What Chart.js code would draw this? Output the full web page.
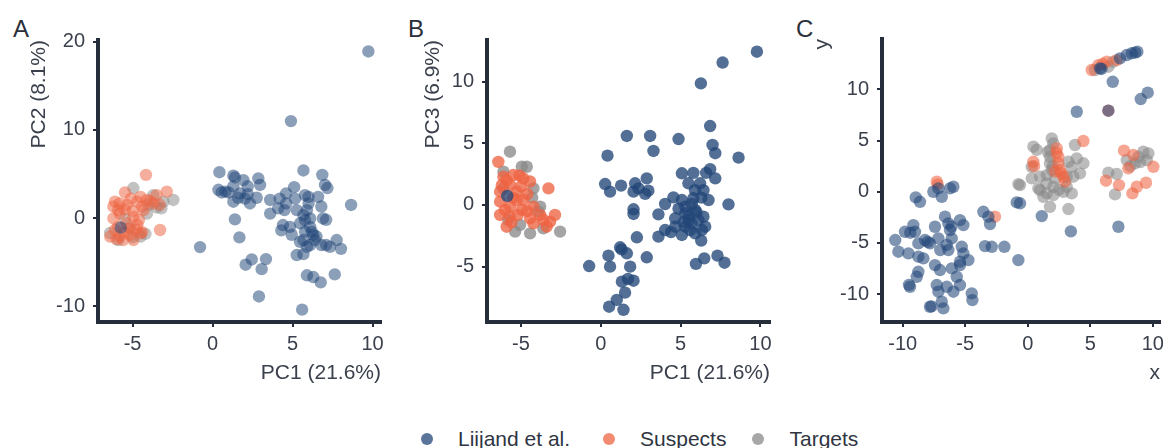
<!DOCTYPE html>
<html>
<head>
<meta charset="utf-8">
<script src="https://cdn.jsdelivr.net/npm/chart.js@4.4.1/dist/chart.umd.min.js"></script>
<style>
  body { margin: 0; background: #fff; width: 1167px; height: 448px; overflow: hidden; position: relative; font-family: "Liberation Sans", Arial, sans-serif; }
  canvas { position: absolute; top: 0; }
  .tag { position: absolute; font-size: 24px; line-height: 24px; color: #2a2f3a; }
  #legend { position: absolute; top: 427px; left: 421px; display: flex; align-items: center; font-size: 21px; line-height: 24px; color: #2f3542; white-space: nowrap; }
  #legend .dot { display: inline-block; width: 12px; height: 12px; border-radius: 50%; margin-right: 25px; }
  #legend .item { display: flex; align-items: center; margin-right: 33px; }
  #legend .item:nth-child(2) { margin-right: 26px; }
</style>
</head>
<body>
<div class="tag" style="left:13px;top:17px">A</div>
<div class="tag" style="left:408px;top:17px">B</div>
<div class="tag" style="left:796px;top:17px">C</div>
<canvas id="pcaA" width="400" height="400" style="left:0px"></canvas>
<canvas id="pcaB" width="400" height="400" style="left:390px"></canvas>
<canvas id="tsneC" width="387" height="400" style="left:780px"></canvas>
<div id="legend"></div>
<script>
// groups and their colours
const groups = ['Liijand et al.', 'Suspects', 'Targets'];
const groupRGB = ['35,70,120', '238,100,66', '138,138,138'];

// PCA: PC1 vs PC2
const aLiigand = [[0.43,5.2],[1.3,4.8],[1.93,4.3],[2.86,4.5],[2.97,3.75],[0.37,3.2],[0.57,2.9],[1.3,3.6],[1.72,2.8],[2.03,2.2],
  [2.76,2.3],[1.3,1.85],[2.34,1.65],[1.4,-0.15],[1.68,-2.2],[-0.78,-3.3],[2.45,-4.7],[2.07,-5.3],[3.34,-4.66],[3.07,-5.8],
  [2.9,-8.9],[5.68,5.4],[6.86,4.9],[7.03,3.75],[7.18,3.4],[8.66,1.48],[3.6,2.05],[4.2,2.2],[4.6,2.8],[5.1,3.5],
  [5.16,2.2],[5.78,2.6],[6.0,2.4],[3.6,0.5],[4.1,1.1],[4.5,0.9],[4.6,1.65],[5.9,0.9],[6.1,-0.05],[6.8,1.3],
  [6.9,-0.05],[7.1,-0.2],[4.4,-0.8],[4.3,-1.4],[4.84,-1.0],[4.95,-1.9],[5.47,-0.6],[5.78,-0.23],[5.78,-1.55],[6.3,-1.9],
  [6.4,-2.5],[6.1,-3.07],[5.47,-2.7],[5.9,-3.26],[7.1,-3.07],[7.34,-3.26],[7.76,-2.5],[8.03,-3.5],[5.26,-4.2],[5.68,-4.1],
  [5.9,-6.5],[6.3,-6.7],[6.76,-7.3],[7.64,-6.4],[5.6,-10.4],[5.26,0.9],[6.6,2.4],[6.0,1.65],[4.9,11.0],[9.74,18.9],
  [5.68,0.34],[6.1,-1.0],[6.2,-1.55],[6.5,-2.1],[5.68,-2.5],[6.8,-3.07],[0.8,3.0],[1.0,2.9],[1.4,4.6],[2.2,3.6],
  [1.6,2.3],[2.2,2.7],[-5.74,-1.1]];
const aSuspects = [[-4.16,4.9],[-5.47,2.9],[-3.5,2.6],[-2.86,3.0],[-6.1,1.85],[-6.2,1.3],[-5.8,1.65],[-5.36,1.5],[-4.7,1.85],[-4.1,2.05],
  [-3.7,1.65],[-4.3,0.9],[-4.95,0.15],[-5.8,0.5],[-6.2,-0.05],[-4.7,-0.8],[-5.36,-0.6],[-3.28,-1.36],[-6.4,-2.1],[-5.8,-2.1],
  [-5.16,-1.93],[-4.5,-1.74],[-6.1,-1.36],[-5.6,-2.5],[-4.95,-2.5],[-5.9,0.9],[-5.5,1.0],[-5.0,0.8],[-4.4,1.3],[-3.9,1.9],
  [-4.6,-0.2],[-5.2,-1.2],[-5.9,-1.0],[-6.0,-2.4],[-5.5,-1.6],[-4.8,-1.3],[-4.4,-1.6],[-5.1,2.2],[-4.5,2.4],[-3.3,1.5]];
const aTargets = [[-4.95,3.4],[-2.45,2.05],[-3.07,1.85],[-3.2,1.1],[-4.1,0.5],[-4.5,-2.1],[-6.4,-1.7],[-5.16,-1.1],[-3.7,2.6],[-5.47,-0.1],
  [-5.0,-2.2],[-4.2,-1.8],[-3.5,1.2],[-4.0,1.5],[-5.9,-2.5]];

// PCA: PC1 vs PC3
const bLiigand = [[6.85,6.4],[1.63,5.6],[3.09,5.6],[4.87,5.35],[3.3,4.38],[0.42,4.0],[7.0,4.87],[7.17,4.2],[8.63,3.84],[5.08,2.57],
  [5.8,2.6],[6.85,2.9],[7.17,2.16],[6.22,1.76],[5.49,1.76],[6.43,1.2],[0.27,1.7],[0.58,1.08],[1.27,1.57],[2.15,1.76],
  [2.88,2.16],[2.05,1.08],[2.78,0.9],[2.36,1.35],[2.98,1.16],[2.05,-0.35],[2.05,-0.73],[3.61,-0.76],[4.03,0.08],[4.55,0.62],
  [5.08,0.4],[5.8,0.54],[6.75,0.4],[8.0,0.05],[4.66,-1.08],[5.29,-0.68],[5.91,-0.4],[6.43,-0.95],[4.03,-2.03],[4.66,-1.76],
  [5.29,-1.76],[5.7,-1.49],[6.33,-2.03],[5.08,-2.43],[5.91,-2.3],[3.61,-2.57],[2.26,-2.62],[6.29,-2.89],[5.49,-1.22],[2.88,-4.24],
  [1.21,-3.43],[1.63,-3.92],[0.48,-4.11],[-0.73,-4.95],[0.58,-5.0],[1.84,-5.0],[5.96,-4.78],[6.48,-4.33],[7.31,-4.11],[7.75,-4.68],
  [1.32,-6.22],[2.05,-6.14],[1.52,-7.11],[1.0,-7.7],[0.52,-8.25],[1.42,-8.5],[9.78,12.43],[7.63,11.55],[6.27,9.86],[5.29,-0.14],
  [5.7,0.08],[6.12,-1.22],[4.87,-0.3],[6.54,-1.76],[5.6,-2.03],[5.5,-0.9],[6.0,-0.6],[5.2,-1.4],[4.4,-2.2],[6.6,2.6],
  [5.9,1.2],[6.3,0.6],[1.7,-6.0],[1.3,-3.6],[-5.86,0.73]];
const bSuspects = [[-6.42,3.5],[-6.1,2.3],[-5.48,2.43],[-4.85,2.16],[-4.43,1.9],[-3.28,1.35],[-6.31,1.08],[-5.27,1.08],[-4.85,0.4],[-6.31,0.27],
  [-5.69,-0.13],[-4.95,-0.4],[-4.22,-0.13],[-6.31,-0.81],[-5.69,-0.95],[-4.43,-1.08],[-3.8,-0.81],[-2.87,-0.81],[-5.9,-1.76],[-4.22,-1.49],
  [-3.39,-1.76],[-3.18,-1.35],[-5.27,0.4],[-5.69,1.62],[-5.9,2.0],[-5.0,1.5],[-4.6,0.9],[-5.5,0.6],[-6.0,-0.4],[-5.2,-0.8],
  [-4.6,-0.5],[-3.6,-1.2],[-5.6,-1.4],[-6.2,1.6],[-5.1,2.4]];
const bTargets = [[-5.69,4.32],[-4.95,3.1],[-4.64,3.1],[-6.1,2.7],[-3.8,-0.13],[-2.55,-2.16],[-5.37,-2.16],[-4.43,-2.3],[-6.1,1.35],[-4.22,1.35],
  [-3.91,-0.54],[-5.06,-1.62],[-4.3,0.6],[-3.6,-1.9],[-5.8,-1.2]];

// embedding x vs y
const cLiigand = [[-8.96,-0.55],[-8.62,-0.98],[-7.55,0],[-7.15,0.33],[-6.88,-0.49],[-6.22,0.33],[-5.95,0.49],[-0.88,-1.04],[-0.62,-1.13],[-3.55,-1.96],
  [-3.15,-2.44],[-3.02,-3.16],[-10.6,-4.72],[-10.35,-5.86],[-9.82,-3.91],[-9.15,-3.26],[-9.02,-3.91],[-9.55,-6.02],[-8.75,-6.35],[-8.35,-6.51],
  [-8.75,-5.05],[-8.22,-4.72],[-7.82,-5.05],[-7.15,-4.56],[-6.62,-2.44],[-6.35,-3.09],[-6.22,-3.74],[-6.08,-4.56],[-6.35,-5.7],[-5.42,-2.77],
  [-5.15,-3.26],[-5.28,-5.38],[-5.15,-6.02],[-4.75,-6.68],[-5.42,-6.84],[-5.42,-7.17],[-7.42,-7.17],[-7.02,-7.65],[-8.75,-7.82],[-8.88,-8.31],
  [-9.42,-9.29],[-7.28,-9.12],[-6.48,-9.29],[-5.68,-8.31],[-5.42,-9.12],[-5.95,-9.77],[-4.48,-9.93],[-4.43,-10.59],[-7.82,-11.24],[-6.75,-11.4],
  [-6.88,-10.75],[-7.15,-9.77],[-3.42,-5.31],[-2.88,-5.38],[-1.87,-5.38],[-0.75,-6.68],[-6.08,-7.49],[-7.42,-3.42],[-6.48,-5.2],[-9.4,-4.0],
  [-8.0,-4.9],[-7.0,-5.7],[-6.1,-3.4],[-9.5,-9.1],[-7.7,-11.2],[8.77,13.69],[8.32,13.53],[7.92,13.36],[7.38,13.04],[5.78,12.06],
  [6.8,10.75],[9.6,9.68],[9.04,9.06],[3.92,7.82],[6.45,7.92],[1.12,-2.38],[3.45,-3.87],[7.25,-3.42],[8.6,13.6],[5.9,12.0]];
const cSuspects = [[-7.28,0.98],[-7.2,0.7],[-2.62,-2.44],[7.12,12.87],[6.32,12.71],[5.65,12.38],[5.12,11.9],[6.0,12.5],[4.45,4.96],[0.45,2.93],
  [0.5,2.5],[2.32,4.24],[2.45,3.42],[2.45,2.78],[2.58,2.12],[2.85,1.47],[2.98,0.98],[2.18,2.0],[2.3,3.8],[2.7,1.8],
  [7.7,4.01],[8.05,2.29],[8.45,3.59],[10.05,2.44],[6.26,1.08],[7.3,0.65],[8.72,0.49],[9.46,0.88],[8.37,-0.16],[6.45,7.92]];
const cTargets = [[-0.75,0.75],[6.85,12.71],[5.38,11.9],[6.45,12.22],[0.45,4.4],[0.72,4.1],[1.92,5.22],[2.05,4.73],[1.78,4.08],[1.78,3.42],
  [1.78,2.78],[1.92,2.12],[3.78,4.57],[3.25,2.93],[3.92,3.26],[4.45,2.78],[3.52,2.44],[4.18,1.8],[3.65,1.47],[0.32,2.44],
  [0.32,1.31],[0.98,1.47],[1.52,1.63],[2.18,1.31],[-0.62,0.65],[0.85,0.33],[1.52,-0.16],[2.05,-0.32],[1.78,-1.47],[3.25,-1.69],
  [3.12,0.49],[3.52,-0.16],[2.85,0],[1.25,-0.49],[0.98,0.16],[2.05,0.49],[3.12,1.47],[6.45,1.86],[7.12,1.73],[6.98,-0.26],
  [7.92,3.1],[8.85,3.42],[9.25,3.91],[9.65,3.75],[9.52,3.1],[8.58,2.78],[9.0,2.9],[8.2,2.5],[1.6,3.9],[2.0,2.5],
  [1.5,0.8],[2.5,0.2]];

// tick labels
const aXTicks = [-5, 0, 5, 10], aYTicks = [-10, 0, 10, 20];
const bXTicks = [-5, 0, 5, 10], bYTicks = [-5, 0, 5, 10];
const cXTicks = [-10, -5, 0, 5, 10], cYTicks = [-10, -5, 0, 5, 10];

const axisColor = '#262e3b';
const textColor = '#3a404c';

function toPoints(arr) {
  return arr.map(p => ({x: p[0], y: p[1]}));
}

function makePanel(id, p) {
  const datasets = p.series.map((s, i) => ({
    label: groups[i],
    data: toPoints(s),
    backgroundColor: 'rgba(' + groupRGB[i] + ',' + p.alpha + ')',
    borderWidth: 0,
    pointRadius: 6.2,
    pointHoverRadius: 6.2
  }));
  const scaleBase = {
    type: 'linear',
    border: {display: true, width: 4, color: axisColor},
    grid: {display: true, drawOnChartArea: false, drawTicks: true, tickLength: 5, lineWidth: 2, color: axisColor}
  };
  new Chart(document.getElementById(id), {
    type: 'scatter',
    data: {datasets: datasets},
    options: {
      responsive: false,
      animation: false,
      devicePixelRatio: 1,
      layout: {padding: {top: p.top, right: p.right, left: 0, bottom: 0}},
      plugins: {legend: {display: false}, tooltip: {enabled: false}},
      scales: {
        x: Object.assign({}, scaleBase, {
          min: p.xRange[0], max: p.xRange[1],
          afterBuildTicks: axis => { axis.ticks = p.xTicks.map(v => ({value: v})); },
          afterFit: axis => { axis.height = 78; axis.paddingLeft = 0; axis.paddingRight = 0; },
          ticks: {color: textColor, font: {size: 20, family: 'Liberation Sans'}, padding: 5, maxRotation: 0, callback: v => String(v)},
          title: {display: true, text: p.xTitle, align: 'end', color: textColor, font: {size: 21, family: 'Liberation Sans'}, padding: {top: 0, bottom: 14}}
        }),
        y: Object.assign({}, scaleBase, {
          min: p.yRange[0], max: p.yRange[1],
          afterBuildTicks: axis => { axis.ticks = p.yTicks.map(v => ({value: v})); },
          afterFit: axis => { axis.width = p.yWidth; axis.paddingTop = 0; axis.paddingBottom = 0; },
          ticks: {color: textColor, font: {size: 20, family: 'Liberation Sans'}, padding: 8, callback: v => String(v)},
          title: {display: true, text: p.yTitle, align: 'end', color: textColor, font: {size: 21, family: 'Liberation Sans'}, padding: {top: p.yTitlePad, bottom: 0}}
        })
      }
    }
  });
}

makePanel('pcaA', {
  series: [aLiigand, aSuspects, aTargets], alpha: 0.52,
  xRange: [-7.16, 10.53], yRange: [-11.8, 20.2], xTicks: aXTicks, yTicks: aYTicks,
  xTitle: 'PC1 (21.6%)', yTitle: 'PC2 (8.1%)', top: 40, right: 19, yWidth: 98, yTitlePad: 27
});
makePanel('pcaB', {
  series: [bLiigand, bSuspects, bTargets], alpha: 0.78,
  xRange: [-7.13, 10.6], yRange: [-9.49, 13.38], xTicks: bXTicks, yTicks: bYTicks,
  xTitle: 'PC1 (21.6%)', yTitle: 'PC3 (6.9%)', top: 40, right: 20, yWidth: 97, yTitlePad: 31
});
makePanel('tsneC', {
  series: [cLiigand, cSuspects, cTargets], alpha: 0.58,
  xRange: [-11.66, 10.58], yRange: [-12.73, 14.93], xTicks: cXTicks, yTicks: cYTicks,
  xTitle: 'x', yTitle: 'y', top: 39, right: 7, yWidth: 102, yTitlePad: 30
});

// shared legend
const legend = document.getElementById('legend');
groups.forEach((g, i) => {
  const item = document.createElement('span');
  item.className = 'item';
  const dot = document.createElement('span');
  dot.className = 'dot';
  dot.style.background = 'rgba(' + groupRGB[i] + ',0.75)';
  item.appendChild(dot);
  item.appendChild(document.createTextNode(g));
  legend.appendChild(item);
});
</script>
</body>
</html>
